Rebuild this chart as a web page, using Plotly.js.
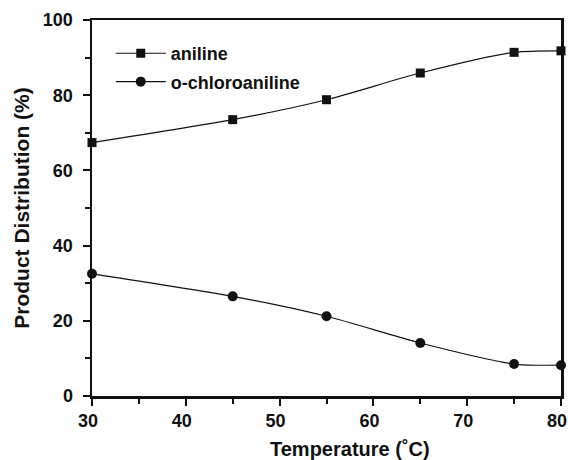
<!DOCTYPE html>
<html>
<head>
<meta charset="utf-8">
<script src="https://cdn.plot.ly/plotly-3.0.1.min.js"></script>
<style>html,body{margin:0;padding:0;background:#fff;}#chart{width:568px;height:460px;}</style>
</head>
<body>
<div id="chart"></div>
<script>
var temperature = [30, 45, 55, 65, 75, 80];
var aniline = [67.4, 73.5, 78.8, 85.9, 91.4, 91.8];
var chloroaniline = [32.5, 26.5, 21.2, 14.1, 8.5, 8.2];
var seriesNames = ["aniline", "o-chloroaniline"];
var xTitle = "Temperature (˚C)";
var yTitle = "Product Distribution (%)";

var fontFam = "Liberation Sans, Arial, sans-serif";
var traces = [
  {x: temperature, y: aniline, name: seriesNames[0], legendgroup: "a", type: "scatter", mode: "lines+markers",
   line: {shape: "spline", smoothing: 0.7, color: "#111", width: 1.2},
   marker: {symbol: "square", size: 9, color: "#111"}, cliponaxis: false},
  {x: temperature, y: chloroaniline, name: seriesNames[1], legendgroup: "b", type: "scatter", mode: "lines+markers",
   line: {shape: "spline", smoothing: 0.7, color: "#111", width: 1.2},
   marker: {symbol: "circle", size: 10, color: "#111"}, cliponaxis: false}
];
var axisCommon = {
  showline: true, linecolor: "#111", linewidth: 2.5, mirror: true,
  ticks: "outside", ticklen: 7, tickwidth: 2, tickcolor: "#111",
  showgrid: false, zeroline: false, ticklabeloverflow: "allow",
  tickfont: {family: fontFam, size: 18, color: "#111", weight: "bold"}
};
var layout = {
  width: 568, height: 460,
  margin: {l: 92, r: 7, t: 20, b: 64},
  paper_bgcolor: "#fff", plot_bgcolor: "#fff",
  showlegend: true,
  legend: {x: 0.04, y: 0.96, xanchor: "left", yanchor: "top", bgcolor: "rgba(0,0,0,0)",
    traceorder: "grouped",
    font: {family: fontFam, size: 18, color: "#111", weight: "bold"}, tracegroupgap: 2, itemwidth: 50},
  xaxis: Object.assign({}, axisCommon, {range: [29.999, 80.001], tickvals: [30, 40, 50, 60, 70, 80],
    minor: {tickvals: [35, 45, 55, 65, 75], ticks: "outside", ticklen: 5, tickwidth: 2, tickcolor: "#111"},
    ticklabelstandoff: 0, ticklabelshift: -4}),
  yaxis: Object.assign({}, axisCommon, {range: [0, 100.001], tickvals: [0, 20, 40, 60, 80, 100],
    minor: {tickvals: [10, 30, 50, 70, 90], ticks: "outside", ticklen: 5, tickwidth: 2, tickcolor: "#111"},
    ticklabelstandoff: 6,
    title: {text: yTitle, font: {family: fontFam, size: 21, color: "#111", weight: "bold"}, standoff: 8}}),
  annotations: [
    {text: xTitle, xref: "paper", yref: "paper", x: 0.551, y: -0.14, xanchor: "center", yanchor: "middle",
     showarrow: false, font: {family: fontFam, size: 20, color: "#111", weight: "bold"}}
  ]
};
Plotly.newPlot("chart", traces, layout, {staticPlot: true});
</script>
</body>
</html>
